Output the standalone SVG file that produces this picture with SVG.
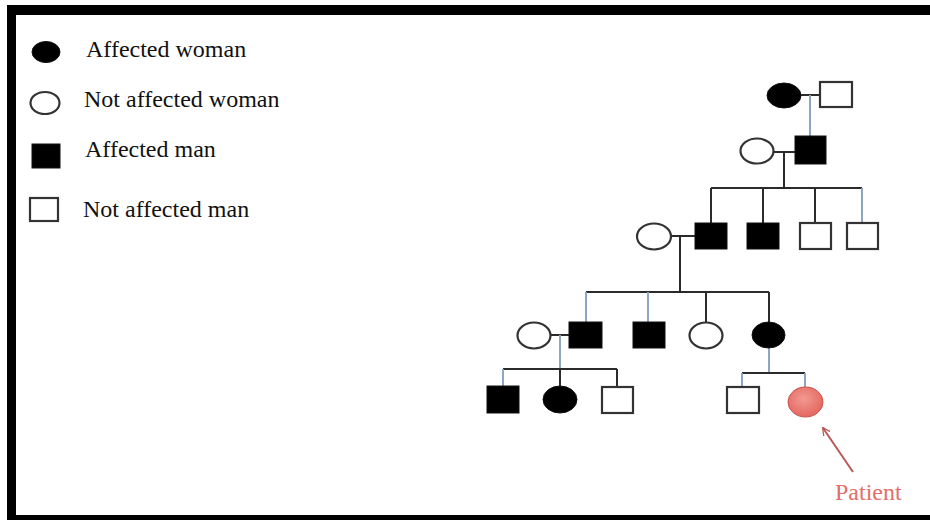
<svg xmlns="http://www.w3.org/2000/svg" width="930" height="520" viewBox="0 0 930 520">
<defs>
<style>
.t{font-family:"Liberation Serif","Times New Roman",serif;font-size:24px;fill:#111}
.pt{font-family:"Liberation Serif","Times New Roman",serif;font-size:24px;fill:#e46e68}
.aff{fill:#000;stroke:#111;stroke-width:1}
.un{fill:#fff;stroke:#333;stroke-width:2.2}
.ln{stroke:#2b2b2b;stroke-width:2;fill:none}
.bl{stroke:#8ea6c2;stroke-width:2;fill:none}
</style>
<radialGradient id="pg" cx="0.45" cy="0.4" r="0.65">
<stop offset="0" stop-color="#f29a92"/>
<stop offset="1" stop-color="#e2635c"/>
</radialGradient>
<marker id="ah" viewBox="0 0 10 10" refX="9" refY="5" markerWidth="8" markerHeight="8" orient="auto" markerUnits="userSpaceOnUse">
<path d="M0,0 L10,5 L0,10" fill="none" stroke="#b85a57" stroke-width="1.6"/>
</marker>
</defs>
<rect x="0" y="0" width="930" height="520" fill="#fff"/>
<!-- frame -->
<rect x="7" y="5" width="923" height="10" fill="#000"/>
<rect x="7" y="5" width="9" height="515" fill="#000"/>
<rect x="7" y="515" width="923" height="5" fill="#000"/>

<!-- legend -->
<g id="legend">
<ellipse cx="46" cy="52" rx="14" ry="10.5" class="aff"/>
<text x="86" y="57" class="t">Affected woman</text>
<ellipse cx="45" cy="103" rx="14.5" ry="11" class="un" stroke-width="1.6"/>
<text x="84" y="107" class="t">Not affected woman</text>
<rect x="32" y="144" width="28" height="24" class="aff"/>
<text x="85" y="157" class="t">Affected man</text>
<rect x="30" y="198" width="28" height="23" class="un" stroke-width="1.6"/>
<text x="83" y="217" class="t">Not affected man</text>
</g>

<!-- connectors -->
<g id="connectors">
<!-- gen I -->
<line x1="801" y1="95" x2="819" y2="95" class="ln"/>
<line x1="810" y1="95" x2="810" y2="136" class="bl"/>
<!-- gen II -->
<line x1="773" y1="152" x2="795" y2="152" class="ln"/>
<line x1="784" y1="152" x2="784" y2="188" class="ln"/>
<line x1="711" y1="188" x2="862" y2="188" class="ln"/>
<line x1="711" y1="188" x2="711" y2="223" class="ln"/>
<line x1="763" y1="188" x2="763" y2="223" class="ln"/>
<line x1="815" y1="188" x2="815" y2="223" class="ln"/>
<line x1="862" y1="188" x2="862" y2="223" class="bl"/>
<!-- gen III -->
<line x1="671" y1="236" x2="695" y2="236" class="ln"/>
<line x1="680" y1="236" x2="680" y2="292" class="ln"/>
<line x1="586" y1="292" x2="769" y2="292" class="ln"/>
<line x1="586" y1="292" x2="586" y2="322" class="bl"/>
<line x1="648" y1="292" x2="648" y2="322" class="bl"/>
<line x1="706" y1="292" x2="706" y2="322" class="ln"/>
<line x1="769" y1="292" x2="769" y2="322" class="ln"/>
<!-- gen IV left -->
<line x1="550" y1="335" x2="569" y2="335" class="ln"/>
<line x1="560" y1="335" x2="560" y2="369" class="bl"/>
<line x1="503" y1="369" x2="617" y2="369" class="ln"/>
<line x1="503" y1="369" x2="503" y2="386" class="bl"/>
<line x1="560" y1="369" x2="560" y2="386" class="ln"/>
<line x1="617" y1="369" x2="617" y2="386" class="ln"/>
<!-- gen IV right -->
<line x1="769" y1="348" x2="769" y2="373" class="bl"/>
<line x1="742" y1="373" x2="805" y2="373" class="ln"/>
<line x1="742" y1="373" x2="742" y2="387" class="bl"/>
<line x1="805" y1="373" x2="805" y2="387" class="bl"/>
<!-- patient arrow -->
<line x1="853" y1="472" x2="823" y2="428" stroke="#b85a57" stroke-width="2" marker-end="url(#ah)"/>
</g>

<!-- nodes -->
<g id="I-1"><ellipse cx="784" cy="95.5" rx="17" ry="12.5" class="aff"/></g>
<g id="I-2"><rect x="820" y="82" width="32" height="25" class="un"/></g>
<g id="II-1"><ellipse cx="757" cy="151" rx="16.5" ry="12.5" class="un"/></g>
<g id="II-2"><rect x="795" y="136" width="31" height="28" class="aff"/></g>
<g id="III-1"><ellipse cx="654" cy="236.5" rx="17" ry="13" class="un"/></g>
<g id="III-2"><rect x="695" y="223" width="32" height="26" class="aff"/></g>
<g id="III-3"><rect x="747" y="223" width="32" height="26" class="aff"/></g>
<g id="III-4"><rect x="800" y="223" width="31" height="26" class="un"/></g>
<g id="III-5"><rect x="847" y="223" width="31" height="26" class="un"/></g>
<g id="IV-1"><ellipse cx="534" cy="335.5" rx="16.5" ry="13" class="un"/></g>
<g id="IV-2"><rect x="569" y="322" width="33" height="26" class="aff"/></g>
<g id="IV-3"><rect x="633" y="322" width="32" height="26" class="aff"/></g>
<g id="IV-4"><ellipse cx="706" cy="335.5" rx="16.5" ry="13" class="un"/></g>
<g id="IV-5"><ellipse cx="768.5" cy="335" rx="16.5" ry="13" class="aff"/></g>
<g id="V-1"><rect x="487" y="386" width="32" height="27" class="aff"/></g>
<g id="V-2"><ellipse cx="560" cy="399.5" rx="17" ry="13.5" class="aff"/></g>
<g id="V-3"><rect x="602" y="387" width="31" height="26" class="un"/></g>
<g id="V-4"><rect x="727" y="387" width="32" height="26" class="un"/></g>
<g id="V-5"><ellipse cx="805.5" cy="402" rx="17.5" ry="15" fill="url(#pg)" stroke="#c9514b" stroke-width="1"/></g>

<g id="patient-label"><text x="835" y="500" class="pt">Patient</text></g>
</svg>
